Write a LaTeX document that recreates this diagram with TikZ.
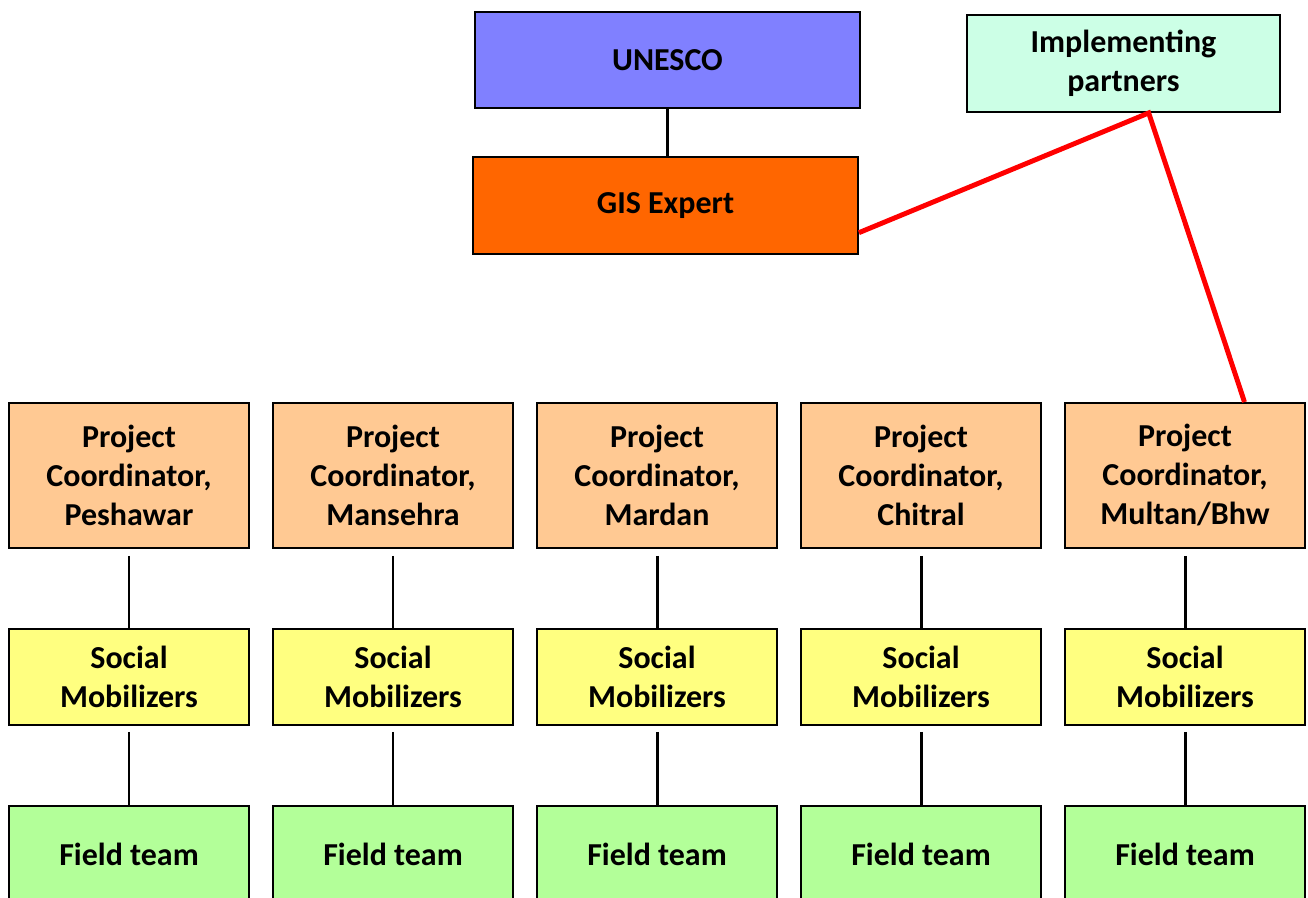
\documentclass[tikz,border=0pt]{standalone}
\usepackage{fontspec}
\setmainfont{Carlito}

\definecolor{unescoblue}{HTML}{8080FF}
\definecolor{gisorange}{HTML}{FF6600}
\definecolor{partnergreen}{HTML}{CCFFE6}
\definecolor{coordpeach}{HTML}{FFC993}
\definecolor{mobyellow}{HTML}{FFFF80}
\definecolor{fieldgreen}{HTML}{B3FF99}

\tikzset{
  box/.style={draw=black, line width=1.1pt, align=center, inner sep=0pt,
    font=\fontsize{18.2}{22.2}\selectfont\bfseries},
  topbox/.style={box, minimum width=7.7cm, minimum height=1.93cm},
  rowbox/.style={box, minimum width=4.8cm},
  link/.style={line width=1.7pt},
  redlink/.style={line width=2.8pt, red}
}

\begin{document}
\begin{tikzpicture}[x=0.02cm,y=-0.02cm]
            \useasboundingbox (0,0) rectangle (1308,898);
            % top of the chart
            \node [topbox, fill=unescoblue] (unesco) at (667.5,60) {UNESCO};
            \node [topbox, fill=gisorange] (gis) at (665.5,205.5) {GIS Expert};
            \node [box, fill=partnergreen, minimum width=6.26cm, minimum height=1.94cm]
                (impl) at (1123.5,63.5) {Implementing\\partners};
            \draw [link] (unesco.south) -- (unesco.south |- gis.north);
            % the five districts
            \foreach \i/\place in {1/Peshawar,2/Mansehra,3/Mardan,4/Chitral,5/Multan\slash Bhw} {
                \node [rowbox, fill=coordpeach, minimum height=2.9cm] (pc\i) at (129+264*\i-264,475.5)
                    {Project\\Coordinator,\\\place};
                \node [rowbox, fill=mobyellow, minimum height=1.92cm] (sm\i) at (129+264*\i-264,677)
                    {Social\\Mobilizers};
                \node [rowbox, fill=fieldgreen, minimum height=1.94cm] (ft\i) at (129+264*\i-264,854.5)
                    {Field team};
                \draw [link] ([yshift=-0.14cm]pc\i.south) -- (sm\i.north);
                \draw [link] ([yshift=-0.12cm]sm\i.south) -- (ft\i.north);
            }
            % partners link
            \draw [redlink] (gis.-8) -- (impl.-63) -- (pc5.51);
        \end{tikzpicture}
\end{document}
